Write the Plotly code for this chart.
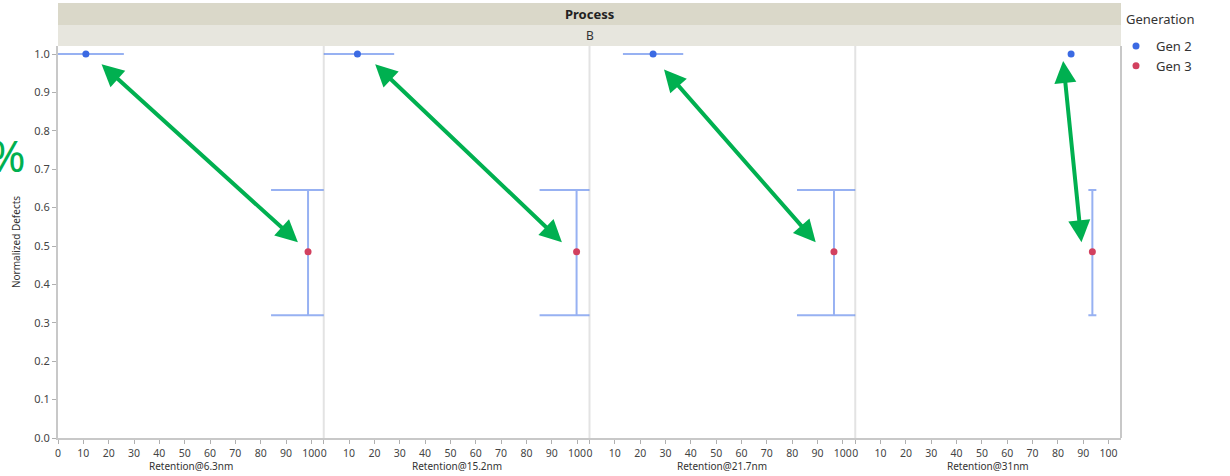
import plotly.graph_objects as go

# ---------------- data ----------------
panels = ["Retention@6.3nm", "Retention@15.2nm", "Retention@21.7nm", "Retention@31nm"]
gen2_x = [11.0, 13.3, 25.1, 85.2]
gen2_y = [1.0, 1.0, 1.0, 1.0]
gen2_xerr = [15.0, 14.5, 11.9, 0.0]
gen3_x = [98.7, 99.8, 96.5, 93.6]
gen3_y = [0.485, 0.485, 0.485, 0.485]
gen3_yerr_plus = [0.161, 0.161, 0.161, 0.161]
gen3_yerr_minus = [0.165, 0.165, 0.165, 0.165]
x_ticks = [0, 10, 20, 30, 40, 50, 60, 70, 80, 90, 100]
y_ticks = [0.0, 0.1, 0.2, 0.3, 0.4, 0.5, 0.6, 0.7, 0.8, 0.9, 1.0]
# green arrow annotation endpoints (x1, y1, x2, y2) per panel
arrows = [
    (16.6, 0.977, 94.7, 0.510),
    (19.7, 0.977, 94.0, 0.510),
    (28.9, 0.964, 89.3, 0.510),
    (82.0, 0.986, 89.3, 0.510),
]
cap_widths = [37, 37, 37, 4]

BLUE = "#3b6ae3"
RED = "#d2405f"
ERR = "rgba(95,135,235,0.65)"
GREEN = "#00b050"
FONT = "Noto Sans"

W, H = 1230, 476
L, R, T, B = 58, 109, 46, 38
h = float(H - T - B)
pw = float(W - L - R)

fig = go.Figure()
for i in range(4):
    xa = "x" if i == 0 else f"x{i+1}"
    fig.add_trace(go.Scatter(
        x=[gen2_x[i]], y=[gen2_y[i]], mode="markers", xaxis=xa, yaxis="y",
        name="Gen 2", legendgroup="g2", showlegend=(i == 0),
        marker=dict(color=BLUE, size=7),
        error_x=dict(type="data", array=[gen2_xerr[i]], color=ERR, thickness=2, width=0,
                     visible=gen2_xerr[i] > 0),
    ))
    fig.add_trace(go.Scatter(
        x=[gen3_x[i]], y=[gen3_y[i]], mode="markers", xaxis=xa, yaxis="y",
        name="Gen 3", legendgroup="g3", showlegend=(i == 0),
        marker=dict(color=RED, size=7),
        error_y=dict(type="data", symmetric=False, array=[gen3_yerr_plus[i]],
                     arrayminus=[gen3_yerr_minus[i]], color=ERR, thickness=2,
                     width=cap_widths[i]),
    ))

layout = dict(
    width=W, height=H,
    margin=dict(l=L, r=R, t=T, b=B, autoexpand=False),
    paper_bgcolor="white", plot_bgcolor="white",
    font=dict(family=FONT, color="#333333", size=11),
    legend=dict(xref="container", yref="container",
                x=1116 / W, y=1 - 31 / H, xanchor="left", yanchor="top",
                font=dict(size=13, color="#333"), itemwidth=30, tracegroupgap=0,
                bgcolor="rgba(0,0,0,0)"),
    yaxis=dict(range=[0, 1.021], tickvals=y_ticks, ticktext=[f"{v:.1f}" for v in y_ticks],
               showgrid=False, zeroline=False, showline=True, linecolor="#c8c8c8", linewidth=2,
               ticks="outside", ticklen=4, tickcolor="#b0b0b0", tickfont=dict(size=11, color="#444"),
               title=dict(text="Normalized Defects", font=dict(size=10, color="#333"), standoff=12),
               anchor="x", automargin=False),
)
for i in range(4):
    key = "xaxis" if i == 0 else f"xaxis{i+1}"
    layout[key] = dict(
        domain=[i * 0.25, (i + 1) * 0.25], range=[0, 104.9], anchor="y",
        tickvals=x_ticks, showgrid=False, zeroline=False, showline=True,
        linecolor="#c8c8c8", linewidth=2, ticks="outside", ticklen=4, tickcolor="#b0b0b0",
        tickfont=dict(size=10.5, color="#444"), automargin=False,
    )
fig.update_layout(**layout)

shapes = [
    dict(type="rect", xref="paper", yref="paper", x0=0, x1=1, y0=1 + 21 / h, y1=1 + 43 / h,
         fillcolor="#dad8c9", line=dict(width=0), layer="below"),
    dict(type="rect", xref="paper", yref="paper", x0=0, x1=1, y0=1, y1=1 + 21 / h,
         fillcolor="#e7e6de", line=dict(width=0), layer="below"),
    dict(type="line", xref="paper", yref="paper", x0=1, x1=1, y0=0, y1=1,
         line=dict(color="#c8c8c8", width=2)),
]
for xs in (0.25, 0.5, 0.75):
    shapes.append(dict(type="line", xref="paper", yref="paper", x0=xs, x1=xs, y0=0, y1=1,
                       line=dict(color="#e3e3e3", width=2), layer="below"))
fig.update_layout(shapes=shapes)

ann = [
    dict(text="<b>Process</b>", xref="paper", yref="paper", x=0.5, y=1 + 32 / h,
         xanchor="center", yanchor="middle",
         showarrow=False, font=dict(size=13, color="#222")),
    dict(text="B", xref="paper", yref="paper", x=0.5, y=1 + 10.5 / h,
         xanchor="center", yanchor="middle",
         showarrow=False, font=dict(size=12, color="#333")),
    dict(text="Generation", xref="paper", yref="paper", x=(1124 - L) / pw, y=(438 - 19) / h,
         xanchor="left", yanchor="middle",
         showarrow=False, font=dict(size=13, color="#333")),
    dict(text="%", xref="paper", yref="paper", x=(7 - L) / pw, y=(438 - 155) / h,
         xanchor="center", yanchor="middle",
         showarrow=False, font=dict(size=44, color=GREEN, family=FONT)),
]
for i, name in enumerate(panels):
    ann.append(dict(text=name, xref="paper", yref="paper", x=(i + 0.5) * 0.25,
                    y=(438 - 466) / h, xanchor="center", yanchor="middle", showarrow=False,
                    font=dict(size=10, color="#333")))
for i, (x1, y1, x2, y2) in enumerate(arrows):
    xr = "x" if i == 0 else f"x{i+1}"
    ann.append(dict(text="", x=x2, y=y2, ax=x1, ay=y1, xref=xr, yref="y", axref=xr, ayref="y",
                    showarrow=True, arrowhead=2, startarrowhead=2, arrowside="end+start",
                    arrowsize=1.1, startarrowsize=1.1, arrowwidth=4, arrowcolor=GREEN,
                    standoff=0, startstandoff=0))
fig.update_layout(annotations=ann)

fig.write_html("out.html", config={"displayModeBar": False},
               post_script="document.body.style.margin='0';document.body.style.overflow='hidden';")
